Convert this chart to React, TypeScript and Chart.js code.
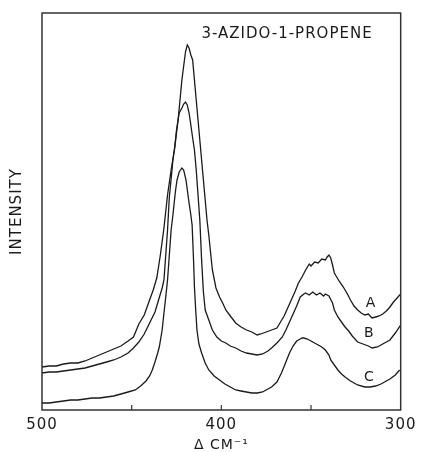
import React, { useEffect, useRef } from "react";
import { Chart, registerables } from "chart.js";

Chart.register(...registerables);

// Raman shift (cm^-1) and intensity (arbitrary units)
const aShift = [500, 496, 492, 488, 484, 480, 476, 472, 468, 464, 460, 456, 452, 449, 446, 443, 440, 438, 436, 434, 432, 430, 428, 426, 424, 422, 420, 419, 418, 417, 416, 414, 412.5, 411, 410, 409, 408, 407, 405, 403, 401, 399, 397.5, 395, 392, 389, 386, 383, 380, 378, 375, 372, 369, 367, 365, 363, 361, 359, 357, 355, 353, 351, 350, 348, 346, 344, 342, 341, 340, 339, 338, 337, 336, 334, 332, 330, 328, 326, 324, 322, 320, 318, 316, 314, 312, 310, 308, 306, 304, 302, 300];
const aIntensity = [43, 44, 44, 46, 47, 47, 49, 52, 55, 58, 61, 64, 69, 73, 86, 95, 110, 120, 132, 155, 182, 215, 240, 262, 292, 330, 358, 365, 362, 355, 350, 310, 280, 250, 230, 210, 190, 175, 140, 122, 113, 106, 100, 94, 87, 83, 80, 78, 75, 76, 78, 80, 82, 88, 94, 102, 110, 118, 127, 133, 140, 146, 144, 148, 147, 151, 150, 153, 155, 152, 145, 137, 134, 128, 123, 117, 110, 104, 100, 97, 95, 96, 92, 93, 94, 96, 99, 103, 108, 112, 116];

const bShift = [500, 496, 492, 488, 484, 480, 476, 472, 468, 464, 460, 456, 452, 449, 446, 443, 440, 437, 435, 433, 432, 430, 429, 428, 427, 426, 425, 423.5, 422, 421, 420, 419, 418, 417, 416, 415, 414, 413, 412, 411, 410, 409, 407, 405, 402.5, 400, 397.5, 395, 392, 389, 386, 383, 380, 377, 374, 372, 369, 366, 364, 362, 360, 358, 356, 354, 353, 351, 349, 347, 345, 343, 342, 340, 338, 337, 335, 333, 331, 329, 327, 324, 321, 318, 316, 313, 311, 309, 306, 303, 300];
const bIntensity = [37, 38, 38, 39, 40, 41, 42, 44, 46, 48, 50, 53, 57, 62, 68, 76, 87, 98, 110, 122, 130, 180, 213, 231, 250, 263, 280, 297, 302, 306, 308, 305, 297, 285, 272, 260, 240, 215, 190, 150, 118, 100, 90, 80, 73, 69, 67, 64, 62, 59, 57, 56, 55, 56, 59, 62, 67, 73, 80, 88, 96, 104, 113, 116, 117, 115, 118, 115, 117, 114, 116, 114, 107, 100, 93, 88, 83, 79, 74, 68, 66, 64, 62, 63, 65, 67, 70, 77, 85];

const cShift = [500, 496, 492, 488, 484, 480, 476, 472, 468, 464, 460, 456, 452, 448, 445, 442, 440, 438.5, 437, 435.5, 434.6, 433, 432, 431, 430, 429, 428, 427, 426.3, 425.5, 424.7, 423.5, 422, 421, 419.7, 418, 417, 416.3, 415.5, 415, 414.3, 413.6, 412.5, 411, 409, 407, 404, 401, 398, 395, 392, 389, 386, 383, 380, 377, 375, 372, 369, 366.5, 364, 362, 360, 358, 356, 355, 354, 352, 350, 348, 346, 344, 342, 340, 339, 337, 335, 333, 331, 328, 324, 320, 317, 314, 311, 309, 306, 303, 300.6];
const cIntensity = [7, 7, 8, 9, 10, 10, 11, 12, 12, 13, 14, 16, 18, 20, 24, 29, 34, 40, 48, 57, 63, 80, 97, 113, 130, 155, 180, 195, 207, 220, 230, 238, 242, 240, 230, 207, 195, 185, 150, 123, 100, 80, 66, 57, 47, 40, 34, 30, 26, 23, 20, 19, 18, 17, 17, 18, 20, 23, 28, 37, 48, 57, 64, 69, 71, 72, 72, 71, 69, 67, 65, 63, 60, 55, 50, 45, 40, 36, 33, 29, 25, 23, 23, 24, 26, 28, 31, 35, 40];

// x-axis tick values and the ones that carry a label
const xTickValues = [500, 450, 400, 350, 300];
const xTickLabels = ["500", "", "400", "", "300"];

// curve labels
const curveNames = ["A", "B", "C"];
const curveLabelShift = [316.6, 317.5, 317.5];
const curveLabelIntensity = [107, 77, 33];

const chartTitle = "3-AZIDO-1-PROPENE";
const xTitle = "Δ CM⁻¹";
const yTitle = "INTENSITY";

const FONT = "'DejaVu Sans', sans-serif";
const INK = "#1a1a1a";

const toPoints = (xs: number[], ys: number[]) => xs.map((x, i) => ({ x, y: ys[i] }));

export default function App() {
  const canvasRef = useRef<HTMLCanvasElement | null>(null);

  useEffect(() => {
    const canvas = canvasRef.current;
    if (!canvas) return;

    const decorPlugin = {
      id: "decor",
      beforeDraw(chart: any) {
        chart.ctx.letterSpacing = "1px";
      },
      afterDatasetsDraw(chart: any) {
        const { ctx, chartArea, scales } = chart;
        const xs = scales.x;
        const ys = scales.y;
        ctx.save();
        // frame
        ctx.strokeStyle = "#333";
        ctx.lineWidth = 1.5;
        ctx.strokeRect(chartArea.left, chartArea.top, chartArea.right - chartArea.left, chartArea.bottom - chartArea.top);
        // inward tick marks
        ctx.lineWidth = 1.2;
        xTickValues.forEach((v) => {
          if (v === 500 || v === 300) return;
          const px = xs.getPixelForValue(v);
          ctx.beginPath();
          ctx.moveTo(px, chartArea.bottom);
          ctx.lineTo(px, chartArea.bottom - 5);
          ctx.stroke();
        });
        // title inside the plot
        ctx.fillStyle = INK;
        ctx.font = `15px ${FONT}`;
        ctx.textAlign = "center";
        ctx.textBaseline = "middle";
        ctx.fillText(chartTitle, chartArea.left + 245, chartArea.top + 21);
        // curve labels
        ctx.font = `14px ${FONT}`;
        curveNames.forEach((name, i) => {
          ctx.fillText(name, xs.getPixelForValue(curveLabelShift[i]), ys.getPixelForValue(curveLabelIntensity[i]));
        });
        ctx.restore();
      },
      afterDraw(chart: any) {
        chart.ctx.letterSpacing = "0px";
      },
    };

    const chart = new Chart(canvas, {
      type: "line",
      data: {
        datasets: [
          { label: "A", data: toPoints(aShift, aIntensity) },
          { label: "B", data: toPoints(bShift, bIntensity) },
          { label: "C", data: toPoints(cShift, cIntensity) },
        ].map((d) => ({
          ...d,
          borderColor: INK,
          borderWidth: 1.3,
          pointRadius: 0,
          tension: 0,
          fill: false,
        })),
      },
      options: {
        responsive: false,
        animation: false,
        layout: { padding: { top: 13, right: 18, left: 0, bottom: 0 } },
        plugins: {
          legend: { display: false },
          tooltip: { enabled: false },
        },
        scales: {
          x: {
            type: "linear",
            reverse: true,
            min: 300,
            max: 500,
            afterBuildTicks: (scale: any) => {
              scale.ticks = xTickValues.map((v) => ({ value: v }));
            },
            afterFit: (scale: any) => {
              scale.height = 42;
            },
            grid: { display: false, drawTicks: false },
            border: { display: false },
            ticks: {
              autoSkip: false,
              maxRotation: 0,
              padding: 6,
              color: INK,
              font: { family: FONT, size: 15 },
              callback: (v: any) => {
                const i = xTickValues.indexOf(Number(v));
                return i >= 0 ? xTickLabels[i] : "";
              },
            },
            title: {
              display: true,
              text: xTitle,
              color: INK,
              font: { family: FONT, size: 14, lineHeight: 1 },
              padding: { top: 0, bottom: 0 },
            },
          },
          y: {
            min: 0,
            max: 397,
            afterFit: (scale: any) => {
              scale.width = 42;
            },
            grid: { display: false, drawTicks: false },
            border: { display: false },
            ticks: { display: false },
            title: {
              display: true,
              text: yTitle,
              color: INK,
              font: { family: FONT, size: 15, lineHeight: 1.2 },
              padding: { top: 8, bottom: 0 },
            },
          },
        },
      },
      plugins: [decorPlugin],
    });

    return () => chart.destroy();
  }, []);

  return (
    <div style={{ position: "fixed", left: 0, top: 0, width: 421, height: 452, background: "#fff" }}>
      <canvas ref={canvasRef} width={421} height={452} style={{ display: "block" }} />
    </div>
  );
}
